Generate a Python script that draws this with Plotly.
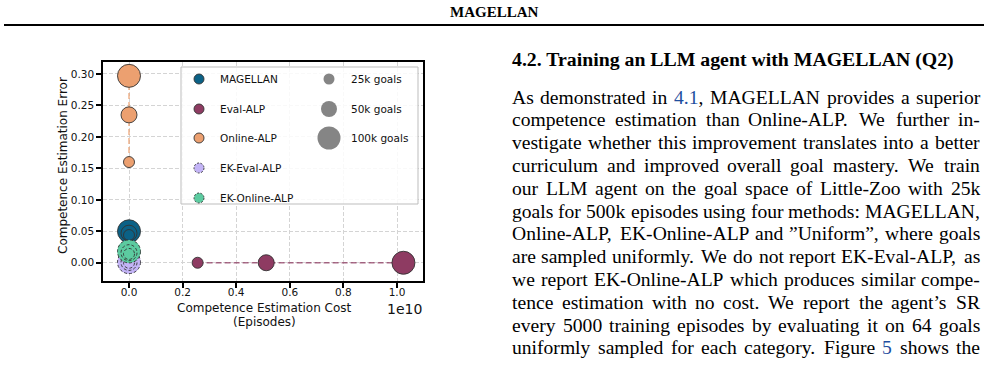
import plotly.graph_objects as go

# ---------------- data ----------------
goal_labels = ["25k goals", "50k goals", "100k goals"]
goals_k = [25, 50, 100]

magellan_cost = [0.0, 0.0, 0.0]
magellan_error = [0.044, 0.047, 0.050]

eval_alp_cost = [0.256e10, 0.512e10, 1.024e10]
eval_alp_error = [0.0, 0.0, 0.0]

online_alp_cost = [0.0, 0.0, 0.0]
online_alp_error = [0.160, 0.235, 0.297]

ek_eval_alp_cost = [0.0, 0.0, 0.0]
ek_eval_alp_error = [0.0, 0.0005, 0.001]

ek_online_alp_cost = [0.0, 0.0, 0.0]
ek_online_alp_error = [0.014, 0.016, 0.018]

method_names = ["MAGELLAN", "Eval-ALP", "Online-ALP", "EK-Eval-ALP", "EK-Online-ALP"]
x_tick_vals = [0.0, 0.2e10, 0.4e10, 0.6e10, 0.8e10, 1.0e10]
x_tick_text = ["0.0", "0.2", "0.4", "0.6", "0.8", "1.0"]
y_tick_vals = [0.0, 0.05, 0.10, 0.15, 0.20, 0.25, 0.30]
y_tick_text = ["0.00", "0.05", "0.10", "0.15", "0.20", "0.25", "0.30"]

header_text = "MAGELLAN"
section_title = "4.2. Training an LLM agent with MAGELLAN (Q2)"
body_lines = [
    "As demonstrated in 4.1, MAGELLAN provides a superior",
    "competence estimation than Online-ALP. We further in-",
    "vestigate whether this improvement translates into a better",
    "curriculum and improved overall goal mastery.  We train",
    "our LLM agent on the goal space of Little-Zoo with 25k",
    "goals for 500k episodes using four methods: MAGELLAN,",
    "Online-ALP, EK-Online-ALP and \u201dUniform\u201d, where goals",
    "are sampled uniformly. We do not report EK-Eval-ALP, as",
    "we report EK-Online-ALP which produces similar compe-",
    "tence estimation with no cost.  We report the agent\u2019s SR",
    "every 5000 training episodes by evaluating it on 64 goals",
    "uniformly sampled for each category. Figure 5 shows the",
]
link_words = {"4.1,": ("4.1", ","), "5": ("5", "")}

# ---------------- styles ----------------
W, H = 988, 373
L, R, T, B = 103, 423, 62, 281          # plot area in pixels
series = [
    (magellan_cost, magellan_error, "#0b6186", False, False),
    (eval_alp_cost, eval_alp_error, "#8e3b62", True, False),
    (online_alp_cost, online_alp_error, "#eca070", True, False),
    (ek_eval_alp_cost, ek_eval_alp_error, "#c3b4f6", False, True),
    (ek_online_alp_cost, ek_online_alp_error, "#5ccba0", False, True),
]
size_px = {25: 11, 50: 16, 100: 23}
edge = "#333333"
tick_font = dict(family="DejaVu Sans", size=10.5, color="#111")
sans = "DejaVu Sans"
serif = "Liberation Serif"


def rgba(hexc, a):
    h = hexc.lstrip("#")
    return "rgba(%d,%d,%d,%.2f)" % (int(h[0:2], 16), int(h[2:4], 16), int(h[4:6], 16), a)


def px(x):
    return (x - L) / (R - L)


def py(y):
    return (B - y) / (B - T)


def note(x, y, text, size, family=sans, xa="center", ya="middle", angle=0):
    return dict(xref="paper", yref="paper", x=px(x), y=py(y), text=text, showarrow=False,
                xanchor=xa, yanchor=ya, textangle=angle, borderpad=0,
                font=dict(family=family, size=size, color="#000" if family == serif else "#111"))


fig = go.Figure()
shapes = []
annotations = []

# dashed connecting lines
for xs, ys, col, show_line, dashed in series:
    if show_line:
        fig.add_trace(go.Scatter(x=xs, y=ys, mode="lines", showlegend=False,
                                 line=dict(color=rgba(col, 0.75), width=1.6, dash="6px,3px"),
                                 hoverinfo="skip"))

# markers (largest first so smaller ones sit on top)
for (xs, ys, col, show_line, dashed), name in zip(series, method_names):
    order = list(range(len(goals_k)))[::-1]
    fig.add_trace(go.Scatter(
        x=[xs[i] for i in order], y=[ys[i] for i in order], mode="markers",
        name=name, showlegend=False,
        text=[goal_labels[i] for i in order],
        marker=dict(color=col, size=[size_px[goals_k[i]] for i in order],
                    line=dict(color=edge, width=0 if dashed else 0.9), opacity=1),
        hovertemplate=name + "<br>%{text}<br>cost=%{x}<br>error=%{y}<extra></extra>"))
    if dashed:
        for i in order:
            r = size_px[goals_k[i]] / 2
            shapes.append(dict(type="circle", xref="x", yref="y", layer="above",
                               xsizemode="pixel", ysizemode="pixel",
                               xanchor=xs[i], yanchor=ys[i],
                               x0=-r, x1=r, y0=-r, y1=r,
                               fillcolor=col, line=dict(color=edge, width=0.9, dash="3px,2px")))

# ---------------- manual legend ----------------
shapes.append(dict(type="rect", xref="paper", yref="paper", layer="above",
                   x0=px(181), x1=px(418), y0=py(204), y1=py(67),
                   fillcolor="rgba(255,255,255,0.85)", line=dict(color="#bdbdbd", width=1)))
leg_rows = [79, 109, 138, 168, 198]
for (xs, ys, col, show_line, dashed), name, yy in zip(series, method_names, leg_rows):
    shapes.append(dict(type="circle", xref="paper", yref="paper", layer="above",
                       x0=px(194), x1=px(204), y0=py(yy + 5), y1=py(yy - 5),
                       fillcolor=col,
                       line=dict(color=edge, width=0.9, dash="2px,1.5px" if dashed else "solid")))
    annotations.append(note(219, yy, name, 10.5, xa="left"))
for k, lab, yy in zip(goals_k, goal_labels, leg_rows):
    r = size_px[k] / 2
    shapes.append(dict(type="circle", xref="paper", yref="paper", layer="above",
                       x0=px(329 - r), x1=px(329 + r), y0=py(yy + r), y1=py(yy - r),
                       fillcolor="#858585", line=dict(width=0)))
    annotations.append(note(350, yy, lab, 10.5, xa="left"))

# ---------------- axis titles ----------------
annotations += [
    note(63, 166, "Competence Estimation Error", 12, angle=-90),
    note(264, 308, "Competence Estimation Cost", 12),
    note(264, 322, "(Episodes)", 12),
    note(404, 309, "1e10", 14),
]

# ---------------- page text ----------------
annotations.append(note(494, 12, "<b>" + header_text + "</b>", 15, family=serif))
shapes.append(dict(type="line", xref="paper", yref="paper", x0=px(4), x1=px(984),
                   y0=py(25), y1=py(25), line=dict(color="#000", width=1.8)))
annotations.append(note(511, 60, "<b>" + section_title + "</b>", 19.8, family=serif, xa="left"))

# Times / Liberation Serif advance widths (1/1000 em)
tw = {' ': 250, '.': 250, ',': 250, ':': 278, '-': 333, '(': 333, ')': 333,
      '\u201d': 444, '\u2019': 333}
for ch, w in zip("abcdefghijklmnopqrstuvwxyz",
                 [444, 500, 444, 500, 444, 333, 500, 500, 278, 278, 500, 278, 778, 500, 500, 500,
                  500, 333, 389, 278, 500, 500, 722, 500, 500, 444]):
    tw[ch] = w
for ch, w in zip("ABCDEFGHIJKLMNOPQRSTUVWXYZ",
                 [722, 667, 667, 722, 611, 556, 722, 722, 333, 389, 722, 611, 889, 722, 722, 556,
                  722, 667, 556, 611, 722, 722, 944, 722, 722, 611]):
    tw[ch] = w
for ch in "0123456789":
    tw[ch] = 500

body_size = 19.6
left_x, right_x = 511, 979
line_y0, line_dy = 97, 22.8


def width(s):
    return sum(tw.get(c, 500) for c in s) * body_size / 1000.0


for li, line in enumerate(body_lines):
    words = line.split()
    wsum = sum(width(w) for w in words)
    gap = (right_x - left_x - wsum) / (len(words) - 1)
    x = left_x
    yy = line_y0 + li * line_dy
    for w in words:
        if w in link_words:
            a, b = link_words[w]
            txt = "<span style='color:#1f4e9e'>" + a + "</span>" + b
        else:
            txt = w
        annotations.append(note(x, yy, txt, body_size, family=serif, xa="left"))
        x += width(w) + gap

fig.update_layout(
    width=W, height=H, margin=dict(l=L, r=W - R, t=T, b=H - B, pad=0),
    paper_bgcolor="white", plot_bgcolor="white", showlegend=False,
    xaxis=dict(range=[-0.097e10, 1.097e10], tickvals=x_tick_vals, ticktext=x_tick_text,
               showline=True, mirror=True, linecolor="#000", linewidth=1.6,
               ticks="outside", ticklen=5, tickwidth=1.5, tickcolor="#000",
               ticklabelstandoff=-4,
               showgrid=True, gridcolor="#d4d4d4", gridwidth=0.8, griddash="4px,2px",
               zeroline=False, tickfont=tick_font),
    yaxis=dict(range=[-0.029, 0.319], tickvals=y_tick_vals, ticktext=y_tick_text,
               showline=True, mirror=True, linecolor="#000", linewidth=1.6,
               ticks="outside", ticklen=5, tickwidth=1.5, tickcolor="#000",
               showgrid=True, gridcolor="#d4d4d4", gridwidth=0.8, griddash="4px,2px",
               zeroline=False, tickfont=tick_font),
    shapes=shapes, annotations=annotations,
)

fig.write_html("out.html")
